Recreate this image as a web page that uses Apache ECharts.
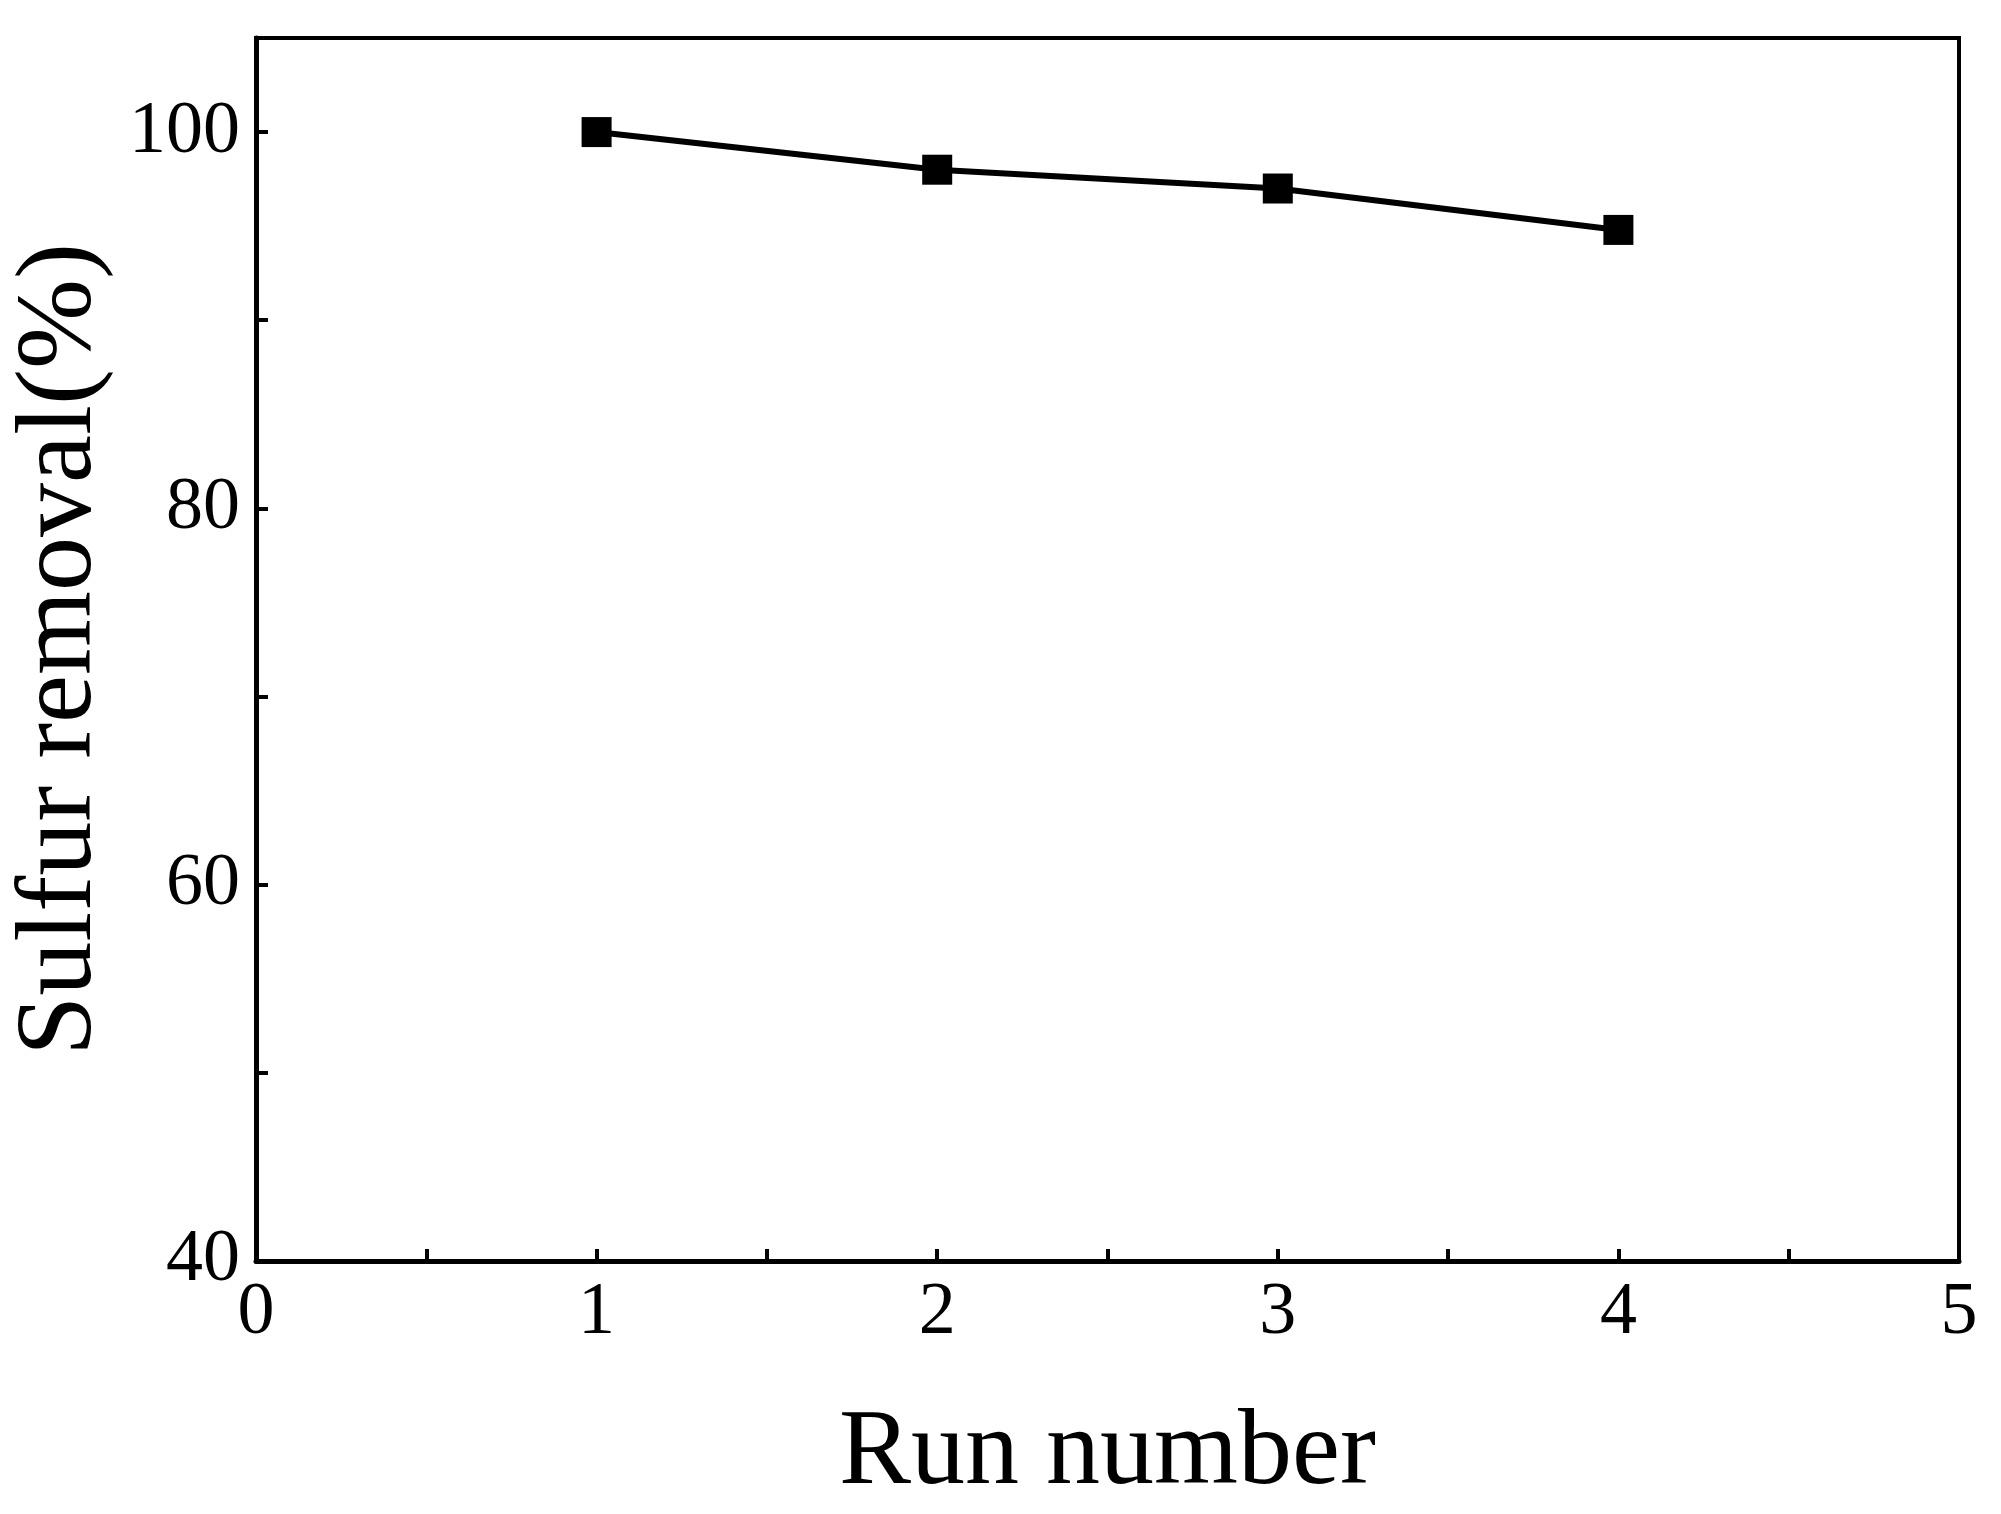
<!DOCTYPE html>
<html><head><meta charset="utf-8">
<script src="https://cdn.jsdelivr.net/npm/echarts@6/dist/echarts.min.js"></script>
<style>html,body{margin:0;padding:0;background:#fff}#c{width:2001px;height:1514px}</style>
</head><body><div id="c"></div>
<script>
const runs = [1, 2, 3, 4];
const removal = [100, 98, 97, 94.8];
const xLabel = 'Run number';
const yLabel = 'Sulfur removal(%)';
const font = 'Liberation Serif';
const chart = echarts.init(document.getElementById('c'));
chart.setOption({
  animation: false,
  grid: {left: 251, right: 42, top: 38, bottom: 211, show: true, borderColor: '#000', borderWidth: 4, backgroundColor: 'transparent'},
  xAxis: {
    type: 'value', min: 0, max: 5, interval: 0.5,
    name: xLabel, nameLocation: 'middle', nameGap: 140,
    nameTextStyle: {fontFamily: font, fontSize: 108, color: '#000'},
    axisLine: {lineStyle: {color: '#000', width: 5}},
    axisTick: {inside: true, length: 12, lineStyle: {color: '#000', width: 4}},
    axisLabel: {fontFamily: font, fontSize: 74, color: '#000', margin: 16,
      formatter: v => Number.isInteger(v) ? String(v) : ''},
    splitLine: {show: false}
  },
  yAxis: {
    type: 'value', min: 40, max: 105, interval: 10,
    name: yLabel, nameLocation: 'middle', nameGap: 140,
    nameTextStyle: {fontFamily: font, fontSize: 108, color: '#000'},
    axisLine: {lineStyle: {color: '#000', width: 5}},
    axisTick: {inside: true, length: 12, lineStyle: {color: '#000', width: 4}},
    axisLabel: {fontFamily: font, fontSize: 74, color: '#000', margin: 16,
      formatter: v => v % 20 === 0 ? String(v) : ''},
    splitLine: {show: false}
  },
  series: [{
    type: 'line', data: runs.map((r, i) => [r, removal[i]]),
    symbol: 'rect', symbolSize: 30,
    lineStyle: {color: '#000', width: 6}, itemStyle: {color: '#000'}
  }]
});
</script></body></html>
